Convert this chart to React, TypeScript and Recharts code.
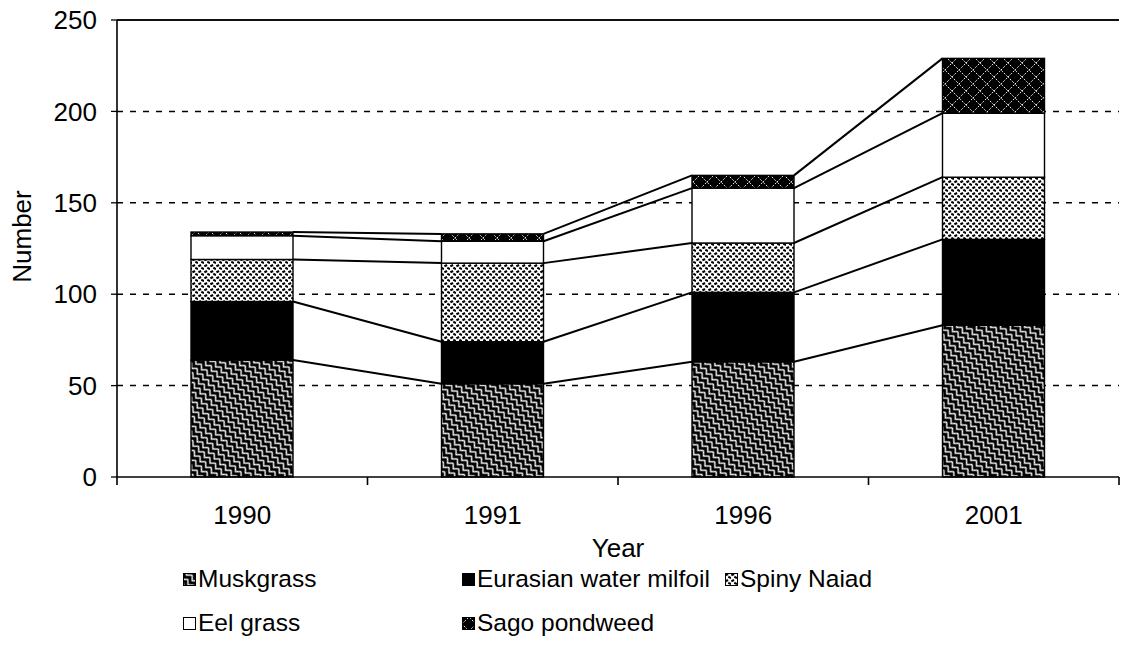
import React from 'react';
import { BarChart, Bar, XAxis, YAxis, CartesianGrid, Legend, ReferenceLine } from 'recharts';

const years = ['1990', '1991', '1996', '2001'];
const muskgrass = [64, 51, 63, 83];
const milfoil = [32, 23, 38, 47];
const spinyNaiad = [23, 43, 27, 34];
const eelGrass = [13, 12, 30, 35];
const sagoPondweed = [2, 4, 7, 30];
const yTicks = [0, 50, 100, 150, 200, 250];
const gridValues = [50, 100, 150, 200];

const seriesKeys = ['muskgrass', 'milfoil', 'spiny', 'eel', 'sago'];
const seriesNames = ['Muskgrass', 'Eurasian water milfoil', 'Spiny Naiad', 'Eel grass', 'Sago pondweed'];
const seriesFills = ['url(#pMusk)', '#000000', 'url(#pSpiny)', '#ffffff', 'url(#pSago)'];

const data = years.map((year, i) => ({
  year,
  muskgrass: muskgrass[i],
  milfoil: milfoil[i],
  spiny: spinyNaiad[i],
  eel: eelGrass[i],
  sago: sagoPondweed[i],
}));

const FONT = '"Liberation Sans", Arial, sans-serif';
const W = 1123;
const H = 666;

const prevTops: Record<string, { x: number; y: number }[]> = {};

function makeShape(key: string) {
  return (props: any) => {
    const { x, y, width, height, index, fill } = props;
    if (!prevTops[key]) prevTops[key] = [];
    const arr = prevTops[key];
    arr[index] = { x: x + width, y };
    const prev = index > 0 ? arr[index - 1] : null;
    return (
      <g>
        <rect x={x} y={y} width={width} height={height} fill={fill} stroke="#000" strokeWidth={1.4} />
        {prev && <line x1={prev.x} y1={prev.y} x2={x} y2={y} stroke="#000" strokeWidth={2} />}
      </g>
    );
  };
}

const XTick = (props: any) => {
  const { x, y, payload, index, visibleTicksCount } = props;
  const half = payload && typeof payload.offset === 'number' && payload.offset > 0 ? payload.offset : 125;
  const last = index === (visibleTicksCount ?? years.length) - 1;
  return (
    <g>
      <line x1={x - half} y1={y} x2={x - half} y2={y + 8} stroke="#000" strokeWidth={1.6} />
      {last && <line x1={x + half} y1={y} x2={x + half} y2={y + 8} stroke="#000" strokeWidth={1.6} />}
      <text x={x} y={y + 47} textAnchor="middle" fontSize={26} fontFamily={FONT} fill="#000">
        {payload.value}
      </text>
    </g>
  );
};

const legendPos = [
  { left: 183, top: 7 },
  { left: 462, top: 7 },
  { left: 725, top: 7 },
  { left: 183, top: 51 },
  { left: 462, top: 51 },
];

const renderLegend = (props: any) => {
  const payload = props.payload || [];
  return (
    <div style={{ position: 'relative', width: W, height: 90, fontFamily: FONT, fontSize: 24.5, color: '#000' }}>
      {payload.map((p: any, i: number) => {
        const idx = seriesNames.indexOf(p.value);
        const pos = legendPos[idx >= 0 ? idx : i];
        const fill = seriesFills[idx >= 0 ? idx : i];
        return (
          <div key={i} style={{ position: 'absolute', left: pos.left, top: pos.top, display: 'flex', alignItems: 'center', whiteSpace: 'nowrap', lineHeight: '28px' }}>
            <svg width={13} height={13} style={{ marginRight: 2 }}>
              <rect x={0.5} y={0.5} width={12} height={12} fill={fill} stroke="#000" strokeWidth={1} />
            </svg>
            <span>{p.value}</span>
          </div>
        );
      })}
    </div>
  );
};

const gridGen = (args: any) => {
  const yAxis = args && args.yAxis;
  if (yAxis && typeof yAxis.scale === 'function') {
    return gridValues.map((v) => yAxis.scale(v));
  }
  const top = args?.offset?.top ?? 19;
  const h = args?.offset?.height ?? 458;
  return gridValues.map((v) => top + h - (v / 250) * h);
};

export default function App() {
  return (
    <div style={{ position: 'absolute', left: 0, top: 0, width: W, height: H, background: '#fff' }}>
      <svg width={0} height={0} style={{ position: 'absolute' }}>
        <defs>
          <pattern id="pMusk" patternUnits="userSpaceOnUse" width={8} height={6} patternTransform="rotate(45)">
            <rect x={-1} y={-1} width={10} height={8} fill="#000" />
            <polyline points="0,1 4,5 8,1" fill="none" stroke="#fff" strokeWidth={1.3} />
          </pattern>
          <pattern id="pSpiny" patternUnits="userSpaceOnUse" width={6} height={6}>
            <rect width={6} height={6} fill="#fff" />
            <rect x={0.2} y={0.6} width={3} height={2.1} fill="#000" transform="rotate(-25 1.7 1.6)" />
            <rect x={3.2} y={3.4} width={3} height={2.1} fill="#000" transform="rotate(25 4.7 4.4)" />
          </pattern>
          <pattern id="pSago" patternUnits="userSpaceOnUse" width={14} height={14}>
            <rect width={14} height={14} fill="#000" />
            <path d="M0,7 L7,0 L14,7 L7,14 Z" fill="none" stroke="#fff" strokeWidth={0.9} strokeDasharray="2 1.5" />
          </pattern>
        </defs>
      </svg>
      <BarChart width={W} height={H} data={data} margin={{ top: 19, right: 4, bottom: 99, left: 0 }} barSize={102}>
        <CartesianGrid
          vertical={false}
          stroke="#000"
          strokeDasharray="6 7"
          strokeWidth={1.5}
          horizontalCoordinatesGenerator={gridGen}
        />
        <XAxis
          xAxisId="top"
          orientation="top"
          dataKey="year"
          height={1}
          tick={false}
          tickLine={false}
          axisLine={{ stroke: '#000', strokeWidth: 1.6 }}
        />
        <XAxis
          dataKey="year"
          interval={0}
          tickLine={false}
          tickSize={0}
          tickMargin={0}
          tick={<XTick />}
          axisLine={{ stroke: '#000', strokeWidth: 1.6 }}
          height={90}
          label={{ value: 'Year', position: 'insideBottom', offset: 10, fill: '#000', fontSize: 26, fontFamily: FONT }}
        />
        <YAxis
          width={117}
          domain={[0, 250]}
          ticks={yTicks}
          interval={0}
          tickSize={6}
          tickMargin={14}
          tick={{ fill: '#000', fontSize: 26, fontFamily: FONT }}
          tickLine={{ stroke: '#000', strokeWidth: 1.3 }}
          axisLine={{ stroke: '#000', strokeWidth: 1.6 }}
          label={{
            content: (p: any) => {
              const vb = p.viewBox || { x: 0, y: 20, width: 117, height: 457 };
              const cx = vb.x + 22;
              const cy = vb.y + vb.height / 2 - 12;
              return (
                <text x={cx} y={cy} transform={`rotate(-90 ${cx} ${cy})`} textAnchor="middle" dominantBaseline="central" fontSize={26} fontFamily={FONT} fill="#000">
                  Number
                </text>
              );
            },
          }}
        />
        <ReferenceLine y={250} stroke="#000" strokeWidth={1.6} ifOverflow="visible" />
        {seriesKeys.map((k, i) => (
          <Bar
            key={k}
            dataKey={k}
            name={seriesNames[i]}
            stackId="a"
            fill={seriesFills[i]}
            isAnimationActive={false}
            shape={makeShape(k)}
          />
        ))}
        <Legend
          layout="horizontal"
          verticalAlign="middle"
          align="center"
          content={renderLegend}
          wrapperStyle={{ top: 558, left: 0, width: W, height: 90 }}
        />
      </BarChart>
    </div>
  );
}
